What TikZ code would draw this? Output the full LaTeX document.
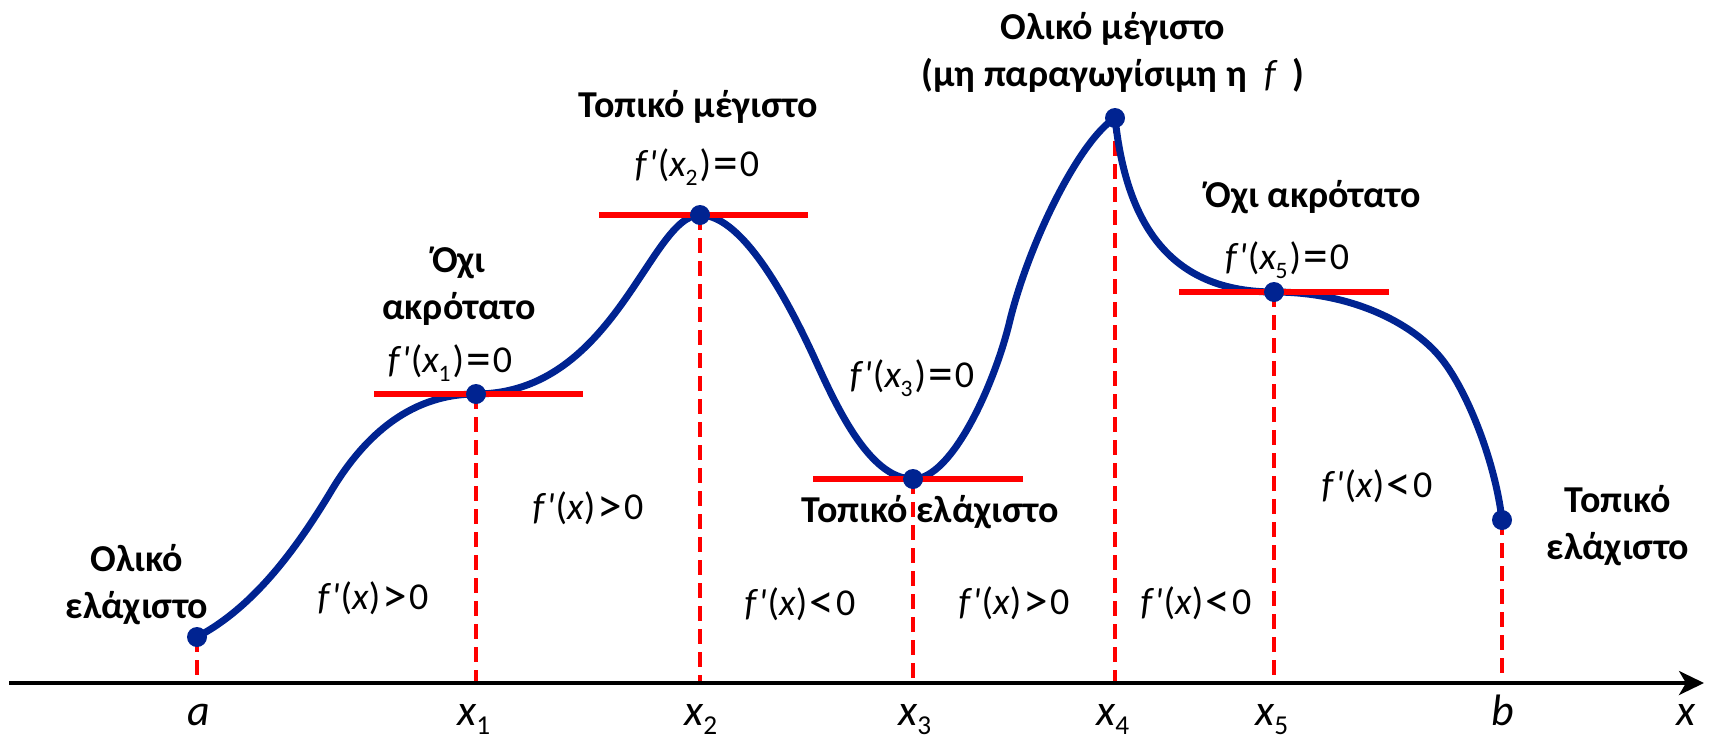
\documentclass[tikz,border=0pt]{standalone}
\usepackage{fontspec}
\setmainfont{Carlito}
\usetikzlibrary{arrows.meta}

\definecolor{curveblue}{RGB}{0,35,145}
\definecolor{tanred}{RGB}{255,0,0}

\newcommand{\fpr}{\textit{f\kern2pt\textquotesingle}\kern1pt}
\newcommand{\xs}[1]{\textit{x}\kern-0.5pt\raisebox{-0.22em}{\upshape\scalebox{0.62}{#1}}}
\newcommand{\rel}[1]{\kern2pt\raisebox{-0.08em}{\scalebox{1.3}{#1}}\kern2pt}

\tikzset{
  note/.style={font=\fontsize{38}{47}\selectfont\bfseries, align=center, inner sep=0pt},
  deriv/.style={font=\fontsize{38}{46}\selectfont, inner sep=0pt},
  axlbl/.style={font=\fontsize{44}{50}\selectfont\itshape, inner sep=0pt, anchor=base},
  fcurve/.style={curveblue, line width=7pt, line join=round, line cap=round},
  tangent/.style={tanred, line width=6pt},
  dropline/.style={tanred, line width=3.5pt, dash pattern=on 15pt off 8pt},
  critdot/.style={circle, fill=curveblue, inner sep=0pt, minimum size=20pt},
}

\begin{document}
\begin{tikzpicture}[x=1pt,y=-1pt]
\useasboundingbox (0,0) rectangle (1710,742);

% axis
\coordinate (axl) at (9,683);
\coordinate (axr) at (1704,683);

% points on the graph
\coordinate (pa) at (197,637);
\coordinate (p1) at (476,394);
\coordinate (p2) at (700,215);
\coordinate (p3) at (913,479);
\coordinate (p4) at (1115,118);
\coordinate (p5) at (1274,292);
\coordinate (pb) at (1502,520);

% dashed drop lines
\foreach \p in {pa,p1,p2,p3,p4,p5,pb}
  \draw[dropline] (\p) -- (\p |- axl);

% the function
\draw[fcurve] (pa) .. controls (254,607) and (296,549) .. (330,493)
  .. controls (360,442) and (406,394) .. (p1)
  .. controls (615,394) and (650,215) .. (p2)
  .. controls (745,215) and (792,310) .. (813,355)
  .. controls (834,401) and (868,479) .. (p3)
  .. controls (953,479) and (996,380) .. (1010,320)
  .. controls (1030,240) and (1080,140) .. (p4)
  .. controls (1125,210) and (1160,292) .. (p5)
  .. controls (1350,292) and (1411,322) .. (1440,357)
  .. controls (1466,388) and (1495,460) .. (pb);

% horizontal tangents
\draw[tangent] ([xshift=-102pt]p1) -- ([xshift=107pt]p1);
\draw[tangent] ([xshift=-101pt]p2) -- ([xshift=108pt]p2);
\draw[tangent] ([xshift=-100pt]p3) -- ([xshift=110pt]p3);
\draw[tangent] ([xshift=-95pt]p5) -- ([xshift=115pt]p5);

\foreach \p in {pa,p1,p2,p3,p4,p5,pb}
  \node[critdot] at (\p) {};

\draw[line width=3.5pt,-{Stealth[length=25pt,width=24pt,inset=7pt]}] (axl) -- (axr);

% labels on the axis
\node[axlbl] (la) at (199,725) {a};
\node[axlbl] (l1) at (474,725) {\xs{1}};
\node[axlbl] (l2) at (701,725) {\xs{2}};
\node[axlbl] (l3) at (915,725) {\xs{3}};
\node[axlbl] (l4) at (1113,725) {\xs{4}};
\node[axlbl] (l5) at (1272,725) {\xs{5}};
\node[axlbl] (lb) at (1503,725) {b};
\node[axlbl] (lx) at (1686,725) {x};

% names of the points
\node[note] (gmin) at (137,585) {Ολικό\\ελάχιστο};
\node[note] (nx1) at (459,286) {Όχι\\ακρότατο};
\node[note] (lmax) at (698,107) {Τοπικό μέγιστο};
\node[note] (lmin) at (930,512) {Τοπικό ελάχιστο};
\node[note] (gmax) at (1113,52) {Ολικό μέγιστο\\(μη παραγωγίσιμη η~~\textit{\mdseries f}\,~)};
\node[note] (nx5) at (1313,197) {Όχι ακρότατο};
\node[note] (bmin) at (1618,526) {Τοπικό\\ελάχιστο};

% derivatives
\node[deriv] (d1) at (450,363) {\fpr(\xs{1}\kern2pt)\rel{=}0};
\node[deriv] (d2) at (697,167) {\fpr(\xs{2}\kern2pt)\rel{=}0};
\node[deriv] (d3) at (912,378) {\fpr(\xs{3}\kern2pt)\rel{=}0};
\node[deriv] (d5) at (1287,260) {\fpr(\xs{5}\kern2pt)\rel{=}0};
\node[deriv] (s1) at (373,598) {\fpr(\textit{x})\rel{>}0};
\node[deriv] (s2) at (588,508) {\fpr(\textit{x})\rel{>}0};
\node[deriv] (s3) at (800,604) {\fpr(\textit{x})\rel{<}0};
\node[deriv] (s4) at (1014,603) {\fpr(\textit{x})\rel{>}0};
\node[deriv] (s5) at (1196,603) {\fpr(\textit{x})\rel{<}0};
\node[deriv] (s6) at (1377,486) {\fpr(\textit{x})\rel{<}0};
\end{tikzpicture}
\end{document}
